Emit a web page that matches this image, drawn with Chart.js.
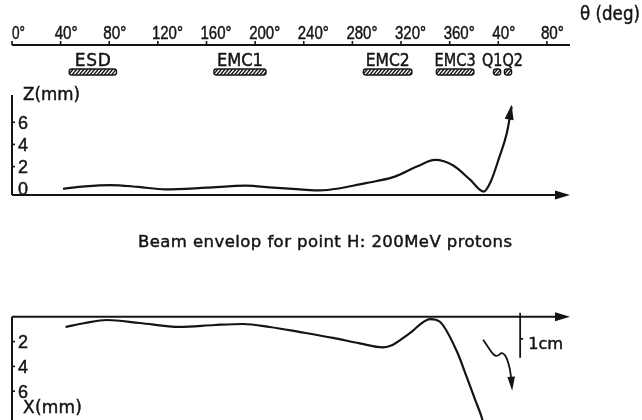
<!DOCTYPE html>
<html>
<head>
<meta charset="utf-8">
<script src="https://cdn.jsdelivr.net/npm/chart.js@4"></script>
<style>
  html, body { margin: 0; padding: 0; background: #fff; }
  canvas { display: block; }
</style>
</head>
<body>
<canvas id="beamChart" width="642" height="420"></canvas>
<script>
// theta axis (degrees along the ring, wraps after 360)
const thetaTicks = [0, 40, 80, 120, 160, 200, 240, 280, 320, 360, 400, 440];
const thetaTickLabels = ['0°', '40°', '80°', '120°', '160°', '200°', '240°', '280°', '320°', '360°', '40°', '80°'];

// elements along the beam line
const elementNames = ['ESD', 'EMC1', 'EMC2', 'EMC3', 'Q1', 'Q2'];
const elementLabels = ['ESD', 'EMC1', 'EMC2', 'EMC3', 'Q1Q2', 'Q1Q2'];
const elementStart = [47, 166, 289, 349, 396, 405];
const elementEnd = [86, 209, 329, 380, 402, 411];

// vertical envelope Z (mm)
const zTheta = [42, 60, 81, 104, 126, 160, 192, 215, 237, 253, 270, 286, 300, 315, 333, 348, 363, 377, 388, 394, 401, 407, 411];
const zValues = [0.0, 0.22, 0.34, 0.17, -0.05, 0.1, 0.28, 0.1, -0.05, -0.15, 0.05, 0.4, 0.7, 1.1, 2.0, 2.6, 2.1, 0.8, -0.25, 0.7, 2.9, 5.0, 7.4];
const zTicks = [0, 2, 4, 6];

// horizontal envelope X (mm), drawn downwards
const xTheta = [44, 60, 78, 105, 138, 167, 190, 212, 237, 264, 286, 305, 313, 327, 344, 352, 366, 374, 381, 387, 391];
const xValues = [0.82, 0.5, 0.26, 0.5, 0.82, 0.66, 0.58, 0.82, 1.23, 1.7, 2.14, 2.46, 2.27, 1.33, 0.18, 0.4, 2.8, 4.85, 6.7, 8.3, 9.9];
const xTicks = [2, 4, 6];

const title = 'Beam envelop for point H: 200MeV protons';

const INK = '#141414';
const FONT = '"DejaVu Sans", Verdana, sans-serif';
const NUM_FONT = '"Liberation Sans", Arial, sans-serif';
const H = 420;

// pixel layout of the two panels (zero line and mm size)
const zZeroPx = 188.8, zPxPerMm = 11.1;
const xZeroPx = 316.8, xPxPerMm = 12.4;

// text drawn to a given width (squeezed or spaced), centred on cap height
function txt(ctx, str, x, cy, size, w, align, face) {
  const f = face || FONT;
  ctx.save();
  ctx.font = size + 'px ' + f;
  ctx.letterSpacing = '0px';
  const m = ctx.measureText(str).width;
  const left = align === 'center' ? x - w / 2 : x;
  const base = cy + size * 0.36;
  ctx.fillStyle = INK;
  ctx.strokeStyle = INK;
  ctx.lineWidth = 0.45;
  ctx.textAlign = 'left';
  ctx.textBaseline = 'alphabetic';
  if (m >= w) {
    ctx.translate(left, base);
    ctx.scale(w / m, 1);
    ctx.fillText(str, 0, 0);
    ctx.strokeText(str, 0, 0);
  } else {
    ctx.letterSpacing = ((w - m) / Math.max(str.length - 1, 1)) + 'px';
    ctx.fillText(str, left, base);
    ctx.strokeText(str, left, base);
  }
  ctx.restore();
}

function arrowHead(ctx, tx, ty, fx, fy, len, half) {
  const a = Math.atan2(ty - fy, tx - fx);
  const bx = tx - len * Math.cos(a), by = ty - len * Math.sin(a);
  ctx.beginPath();
  ctx.moveTo(tx, ty);
  ctx.lineTo(bx + half * Math.sin(a), by - half * Math.cos(a));
  ctx.lineTo(bx - half * Math.sin(a), by + half * Math.cos(a));
  ctx.closePath();
  ctx.fill();
}

function line(ctx, x0, y0, x1, y1) {
  ctx.beginPath();
  ctx.moveTo(x0, y0);
  ctx.lineTo(x1, y1);
  ctx.stroke();
}

function pill(ctx, x0, y0, x1, y1, r) {
  ctx.beginPath();
  ctx.moveTo(x0 + r, y0);
  ctx.lineTo(x1 - r, y0);
  ctx.arcTo(x1, y0, x1, y0 + r, r);
  ctx.arcTo(x1, y1, x1 - r, y1, r);
  ctx.lineTo(x0 + r, y1);
  ctx.arcTo(x0, y1, x0, y1 - r, r);
  ctx.arcTo(x0, y0, x0 + r, y0, r);
  ctx.closePath();
}

const labelWidths = { ESD: 36, EMC1: 46, EMC2: 44, EMC3: 41, Q1Q2: 41 };

const figurePlugin = {
  id: 'figure',
  afterDraw(chart) {
    const ctx = chart.ctx;
    const xs = chart.scales.x, yZ = chart.scales.yZ, yX = chart.scales.yX;
    const x0 = xs.getPixelForValue(0);
    const xEnd = xs.right;
    ctx.save();
    ctx.strokeStyle = INK;
    ctx.fillStyle = INK;
    ctx.lineWidth = 2;
    ctx.lineCap = 'butt';

    // theta axis
    const thY = 45;
    line(ctx, x0, thY, xEnd, thY);
    thetaTicks.forEach((v, i) => {
      const px = xs.getPixelForValue(v);
      ctx.lineWidth = 1.6;
      line(ctx, px, thY - 4, px, thY);
      const lab = thetaTickLabels[i];
      const w = lab.length === 2 ? 13 : lab.length === 3 ? 23 : 31;
      txt(ctx, lab, v === 0 ? px : px - 6, 33, 18, w, 'left', NUM_FONT);
    });
    txt(ctx, 'θ (deg)', 580, 13, 19, 60);

    // element strip
    const groups = {};
    elementNames.forEach((n, i) => {
      const a = xs.getPixelForValue(elementStart[i]);
      const b = xs.getPixelForValue(elementEnd[i]);
      ctx.save();
      pill(ctx, a, 69, b, 75, 2.5);
      ctx.fillStyle = '#fff';
      ctx.fill();
      ctx.clip();
      ctx.lineWidth = 1.4;
      for (let k = a - 8; k < b + 8; k += 3.6) line(ctx, k, 75, k + 5, 69);
      ctx.restore();
      ctx.lineWidth = 1.3;
      pill(ctx, a, 69, b, 75, 2.5);
      ctx.stroke();
      const g = elementLabels[i];
      if (!groups[g]) groups[g] = [a, b];
      groups[g][1] = b;
    });
    Object.keys(groups).forEach(g => {
      const [a, b] = groups[g];
      txt(ctx, g, (a + b) / 2, 60, 17, labelWidths[g], 'center');
    });

    // Z panel axes
    ctx.lineWidth = 2;
    const zBase = yZ.getPixelForValue(-0.56);
    line(ctx, x0, yZ.getPixelForValue(8.45), x0, zBase);
    line(ctx, x0, zBase, xEnd - 10, zBase);
    arrowHead(ctx, xEnd, zBase, x0, zBase, 15, 4.5);
    zTicks.forEach(v => {
      const py = yZ.getPixelForValue(v);
      ctx.lineWidth = 1.6;
      if (v !== 0) line(ctx, x0, py, x0 + 3, py);
      txt(ctx, String(v), 18, py, 18, 10, 'left', NUM_FONT);
    });
    txt(ctx, 'Z(mm)', 23, 94, 17, 57);

    // arrow at end of Z curve
    const zd = chart.getDatasetMeta(0).data;
    const pa = zd[zd.length - 2], pb = zd[zd.length - 1];
    arrowHead(ctx, pb.x, pb.y - 2, pa.x, pa.y, 15, 4.5);

    // title
    txt(ctx, title, 325, 241, 16.5, 374, 'center');

    // X panel axes
    ctx.lineWidth = 2;
    const xAx = yX.getPixelForValue(0);
    line(ctx, x0, xAx, xEnd - 10, xAx);
    arrowHead(ctx, xEnd, xAx, x0, xAx, 15, 4.5);
    line(ctx, x0, xAx, x0, H);
    xTicks.forEach(v => {
      const py = yX.getPixelForValue(v);
      ctx.lineWidth = 1.6;
      line(ctx, x0, py, x0 + 3, py);
      txt(ctx, String(v), 18, py, 18, 10, 'left', NUM_FONT);
    });
    txt(ctx, 'X(mm)', 23, 407, 17, 59);

    // 1 cm scale bar
    const bx = xs.getPixelForValue(418);
    ctx.lineWidth = 1.8;
    line(ctx, bx, xAx - 4, bx, xAx + 41);
    line(ctx, bx, xAx + 22, bx + 3, xAx + 22);
    txt(ctx, '1cm', bx + 8, xAx + 26, 16.5, 35);

    // squiggle arrow (curve leaves the picture)
    const sq = [[-37, 23], [-31, 32], [-26, 39], [-22, 39], [-19, 36], [-16, 37], [-13, 42], [-10, 53], [-9, 62]];
    ctx.lineWidth = 1.8;
    ctx.lineJoin = 'round';
    ctx.beginPath();
    ctx.moveTo(bx + sq[0][0], xAx + sq[0][1]);
    for (let i = 1; i < sq.length - 1; i++) {
      const mx = (sq[i][0] + sq[i + 1][0]) / 2, my = (sq[i][1] + sq[i + 1][1]) / 2;
      ctx.quadraticCurveTo(bx + sq[i][0], xAx + sq[i][1], bx + mx, xAx + my);
    }
    ctx.lineTo(bx + sq[sq.length - 1][0], xAx + sq[sq.length - 1][1]);
    ctx.stroke();
    arrowHead(ctx, bx - 8, xAx + 74, bx - 9, xAx + 60, 14, 3.8);

    ctx.restore();
  }
};

const curveStyle = {
  showLine: true,
  borderColor: INK,
  borderWidth: 2.2,
  pointRadius: 0,
  cubicInterpolationMode: 'monotone',
  fill: false
};

new Chart(document.getElementById('beamChart'), {
  type: 'scatter',
  data: {
    datasets: [
      Object.assign({ label: 'Z', yAxisID: 'yZ', data: zTheta.map((t, i) => ({ x: t, y: zValues[i] })) }, curveStyle),
      Object.assign({ label: 'X', yAxisID: 'yX', data: xTheta.map((t, i) => ({ x: t, y: xValues[i] })) }, curveStyle)
    ]
  },
  options: {
    responsive: false,
    animation: false,
    events: [],
    layout: { padding: { left: 12, right: 72, top: 0, bottom: 0 } },
    scales: {
      x: { type: 'linear', display: false, min: 0, max: 459 },
      yZ: { type: 'linear', display: false, max: zZeroPx / zPxPerMm, min: zZeroPx / zPxPerMm - H / zPxPerMm },
      yX: { type: 'linear', display: false, reverse: true, min: -xZeroPx / xPxPerMm, max: -xZeroPx / xPxPerMm + H / xPxPerMm }
    },
    plugins: {
      legend: { display: false },
      tooltip: { enabled: false }
    }
  },
  plugins: [figurePlugin]
});
</script>
</body>
</html>
